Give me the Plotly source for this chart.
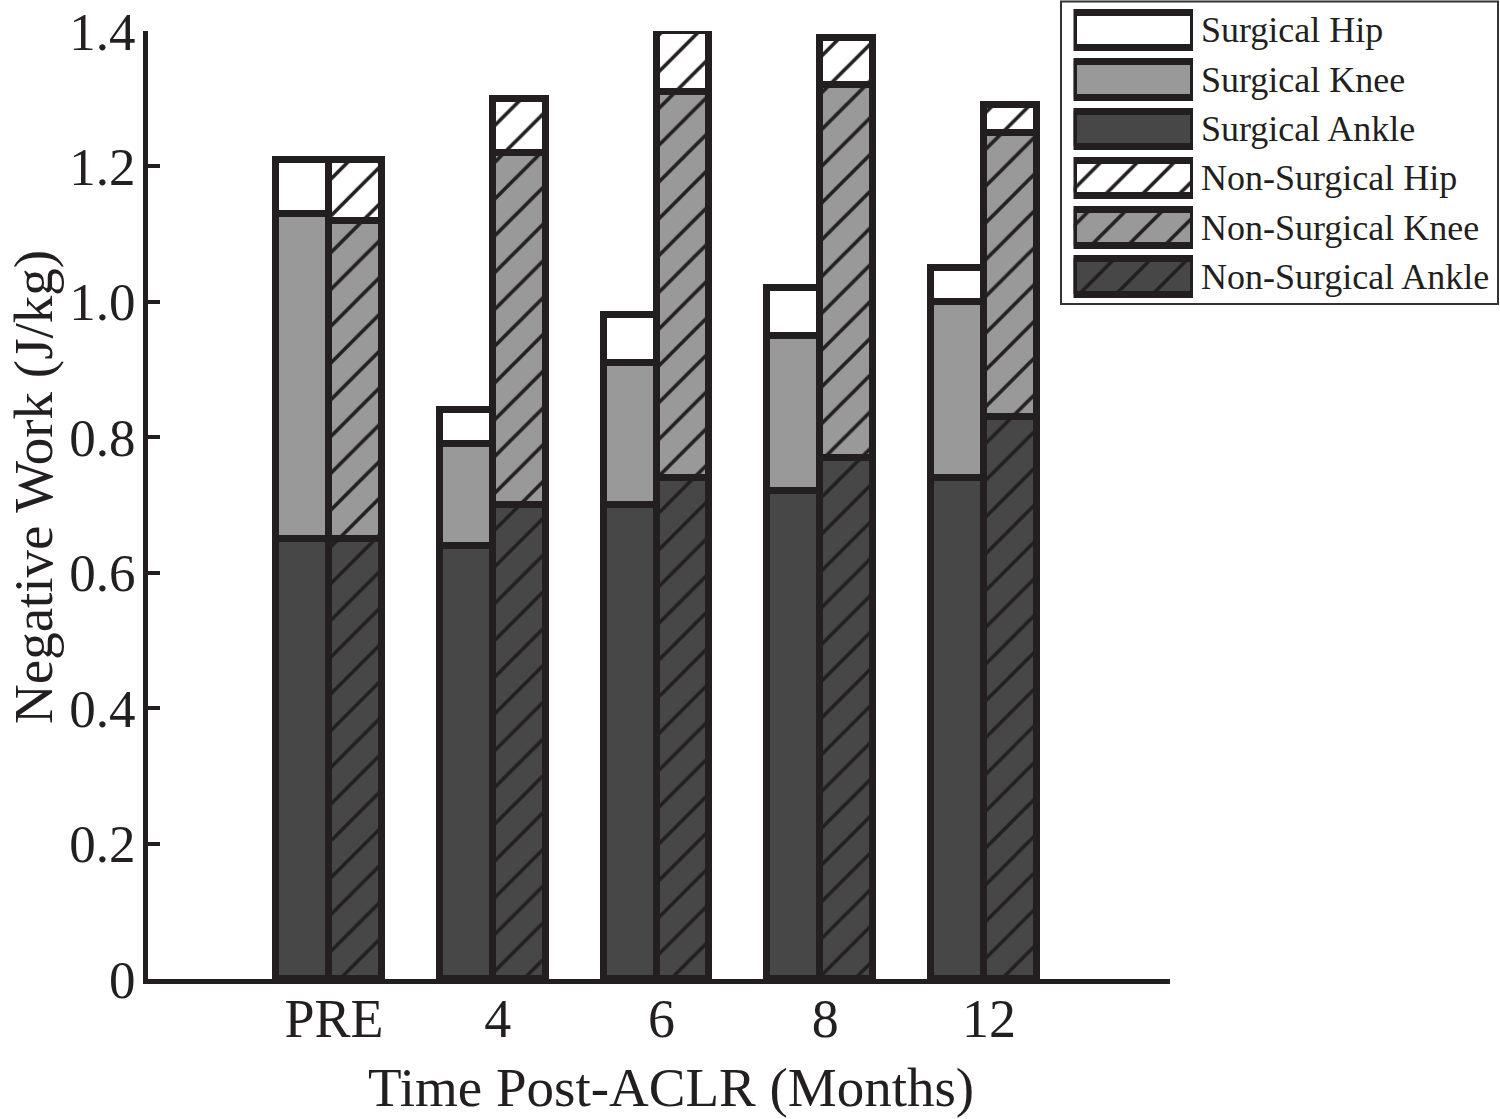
import plotly.graph_objects as go

# ---------------- data ----------------
categories = ["PRE", "4", "6", "8", "12"]
surgical_ankle = [0.65, 0.64, 0.70, 0.72, 0.74]
surgical_knee = [0.48, 0.15, 0.21, 0.23, 0.26]
surgical_hip = [0.08, 0.05, 0.07, 0.07, 0.05]
nonsurgical_ankle = [0.65, 0.70, 0.74, 0.77, 0.83]
nonsurgical_knee = [0.47, 0.52, 0.57, 0.55, 0.42]
nonsurgical_hip = [0.09, 0.08, 0.09, 0.07, 0.04]
y_tick_values = [0, 0.2, 0.4, 0.6, 0.8, 1.0, 1.2, 1.4]
y_tick_labels = ["0", "0.2", "0.4", "0.6", "0.8", "1.0", "1.2", "1.4"]
legend_labels = ["Surgical Hip", "Surgical Knee", "Surgical Ankle",
                 "Non-Surgical Hip", "Non-Surgical Knee", "Non-Surgical Ankle"]
x_title = "Time Post-ACLR (Months)"
y_title = "Negative Work (J/kg)"

# ---------------- style ----------------
HIP = "#ffffff"
KNEE = "#999999"
ANKLE = "#474747"
EDGE = "#231f20"
FONT = "Liberation Serif"
EDGE_W = 7
BAR_W = 0.3226
HATCH_SIZE = 26
HATCH_SOL = 0.14
LABEL_NUDGE = 0.03  # x tick labels sit slightly right of group centres

W, H = 1500, 1119
ML, MR, MT, MB = 148, 0, 0, 140
PW, PH = W - ML - MR, H - MT - MB


def px_x(p):
    """reference pixel x -> paper fraction"""
    return (p - ML) / PW


def px_y(p):
    """reference pixel y -> paper fraction"""
    return 1 - (p - MT) / PH


positions = list(range(1, len(categories) + 1))
x_surg = [p - BAR_W / 2 for p in positions]
x_non = [p + BAR_W / 2 for p in positions]

fig = go.Figure()


def make_pattern(color, hatched):
    if hatched:
        return dict(shape="/", fgcolor=EDGE, bgcolor=color, size=HATCH_SIZE,
                    solidity=HATCH_SOL, fillmode="replace")
    return dict(shape="")


def add_bar(x, y, color, hatched, name):
    fig.add_trace(go.Bar(
        x=x, y=y, width=BAR_W, name=name,
        marker=dict(color=color, line=dict(color=EDGE, width=EDGE_W),
                    pattern=make_pattern(color, hatched)),
        showlegend=False, xaxis="x", yaxis="y", hoverinfo="skip"))


add_bar(x_surg, surgical_ankle, ANKLE, False, legend_labels[2])
add_bar(x_surg, surgical_knee, KNEE, False, legend_labels[1])
add_bar(x_surg, surgical_hip, HIP, False, legend_labels[0])
add_bar(x_non, nonsurgical_ankle, ANKLE, True, legend_labels[5])
add_bar(x_non, nonsurgical_knee, KNEE, True, legend_labels[4])
add_bar(x_non, nonsurgical_hip, HIP, True, legend_labels[3])

# ---------------- custom legend (large swatches) ----------------
legend_colors = [HIP, KNEE, ANKLE, HIP, KNEE, ANKLE]
legend_hatched = [False, False, False, True, True, True]
for i, (lab, col, hat) in enumerate(zip(legend_labels, legend_colors, legend_hatched)):
    fig.add_trace(go.Bar(
        x=[1], y=[i], base=[0], orientation="h", width=0.72,
        marker=dict(color=col, line=dict(color=EDGE, width=EDGE_W),
                    pattern=make_pattern(col, hat)),
        showlegend=False, xaxis="x2", yaxis="y2", hoverinfo="skip", name=lab))
    fig.add_annotation(
        x=px_x(1199), xref="paper", xanchor="left",
        y=i, yref="y2", yanchor="middle",
        text=lab, showarrow=False,
        font=dict(family=FONT, size=36, color=EDGE))

# legend border
fig.add_shape(type="rect", xref="paper", yref="paper",
              x0=px_x(1061), x1=px_x(1498), y0=px_y(304), y1=px_y(1.5),
              line=dict(color="#333333", width=2), fillcolor="rgba(0,0,0,0)", layer="below")

# axis titles
fig.add_annotation(x=px_x(671), y=px_y(1087), xref="paper", yref="paper",
                   xanchor="center", yanchor="middle", showarrow=False,
                   text=x_title, font=dict(family=FONT, size=55, color=EDGE))
fig.add_annotation(x=px_x(33), y=px_y(487), xref="paper", yref="paper",
                   xanchor="center", yanchor="middle", showarrow=False, textangle=-90,
                   text=y_title, font=dict(family=FONT, size=55, color=EDGE))

x_left = (148 - 165.25) / 163.75
x_right = (1170 - 165.25) / 163.75

fig.update_layout(
    width=W, height=H,
    margin=dict(l=ML, r=MR, t=MT, b=MB, autoexpand=False),
    paper_bgcolor="white", plot_bgcolor="rgba(0,0,0,0)",
    barmode="stack", bargap=0,
    font=dict(family=FONT, color=EDGE),
    xaxis=dict(
        domain=[0, px_x(1170)], range=[x_left, x_right],
        tickvals=[p + LABEL_NUDGE for p in positions], ticktext=categories,
        ticks="", ticklen=0,
        ticklabelstandoff=-12, automargin=False,
        showgrid=False, zeroline=False,
        showline=True, linewidth=5, linecolor=EDGE,
        tickfont=dict(family=FONT, size=54, color=EDGE),
    ),
    yaxis=dict(
        domain=[0, px_y(31)], range=[0, 1.4 + 1e-9],
        tickvals=y_tick_values, ticktext=y_tick_labels,
        ticks="inside", ticklen=12, tickwidth=4, tickcolor=EDGE,
        automargin=False, ticklabeloverflow="allow", ticklabelstandoff=-3,
        showgrid=False, zeroline=False,
        showline=True, linewidth=5, linecolor=EDGE,
        tickfont=dict(family=FONT, size=53, color=EDGE),
    ),
    xaxis2=dict(domain=[px_x(1073.5), px_x(1193)], range=[0, 1], anchor="y2",
                visible=False, fixedrange=True),
    yaxis2=dict(domain=[px_y(301.45), px_y(5.65)], range=[5.5, -0.5], anchor="x2",
                visible=False, fixedrange=True),
)

# remove the default page margin so the 1500x1119 figure fills the window exactly
fig.write_html("out.html", config={"displayModeBar": False},
               post_script="document.body.style.margin='0px';")
